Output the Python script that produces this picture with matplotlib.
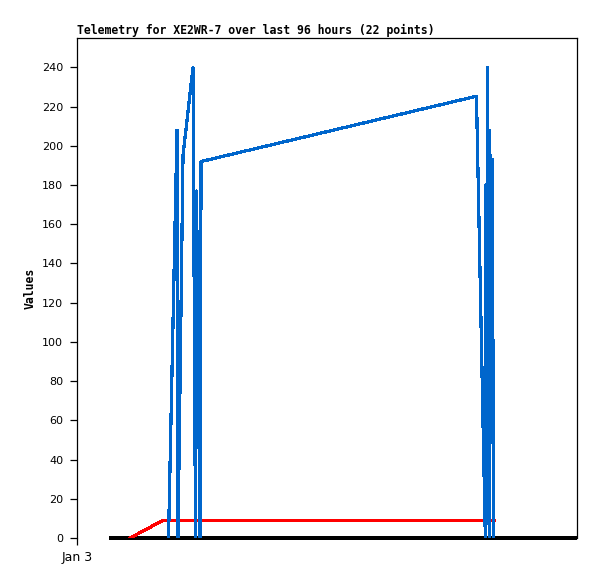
import matplotlib
matplotlib.use("Agg")
import matplotlib.pyplot as plt

# Telemetry data, hours since Jan 3 00:00
blue_hours = [17.57, 19.2, 19.39, 20.35, 22.27, 22.75, 22.94, 23.62, 23.81,
              76.22, 76.7, 78.4, 78.53, 78.66, 78.84, 79.01, 79.16, 79.26,
              79.39, 79.53, 79.62, 79.78, 79.93]
blue_values = [0, 208, 0, 195, 240, 0, 177, 0, 192,
               225, 225, 0, 180, 60, 240, 30, 0, 208,
               101, 152, 52, 193, 0]

red_hours = [10.18, 16.51, 80.06]
red_values = [0, 9, 9]

black_hours = [6.14, 96]
black_values = [0, 0]

x_ticks = [0]
x_labels = ["Jan 3"]
y_ticks = list(range(0, 241, 20))

fig = plt.figure(figsize=(5.97, 5.79), dpi=100)
ax = fig.add_axes([0.129, 0.0708, 0.8375, 0.8636])

ax.plot(black_hours, black_values, color="black", lw=1.6, antialiased=False,
        clip_on=False, solid_capstyle="butt")
ax.plot(red_hours, red_values, color="#ff0000", lw=1.6, antialiased=False)
ax.plot(blue_hours, blue_values, color="#0066cc", lw=1.6, antialiased=False)

ax.set_xlim(0, 96)
ax.set_ylim(0, 255)
ax.set_xticks(x_ticks)
ax.set_xticklabels(x_labels)
ax.set_yticks(y_ticks)
ax.spines["bottom"].set_visible(False)
for s in ["left", "top", "right"]:
    ax.spines[s].set_linewidth(0.9)
ax.tick_params(direction="out", length=5, width=0.9, labelsize=8, pad=5)
ax.tick_params(axis="x", labelsize=9, pad=4)

ax.set_ylabel("Values", family="DejaVu Sans Mono", fontweight="bold", fontsize=8.3, labelpad=4)
ax.set_title("Telemetry for XE2WR-7 over last 96 hours (22 points)",
             family="DejaVu Sans Mono", fontweight="bold", fontsize=8.3, loc="left", pad=3)

fig.savefig("out.png", dpi=100)
